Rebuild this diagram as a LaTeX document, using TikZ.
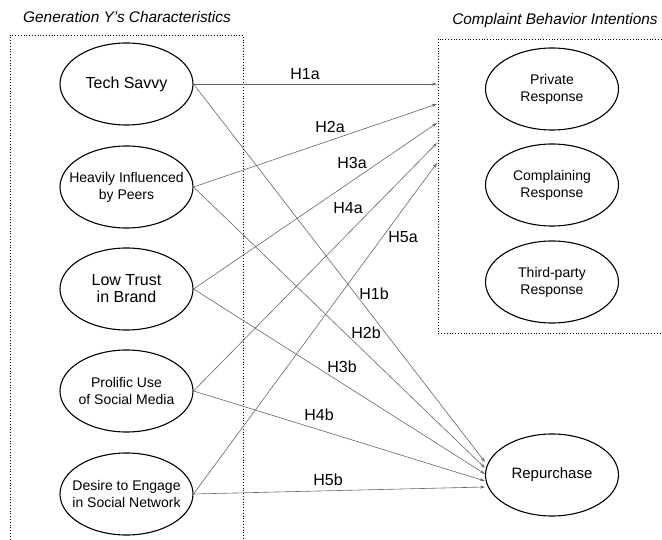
\documentclass[tikz,border=0pt]{standalone}
\usepackage{fontspec}
\setmainfont{Liberation Sans}
\usetikzlibrary{shapes.geometric,arrows.meta}
\begin{document}
\begin{tikzpicture}[x=1pt,y=-1pt,
  oval/.style={ellipse,draw=black,line width=1.1pt,minimum width=133pt,minimum height=82pt,inner sep=0pt},
  txt/.style={align=center,inner sep=0pt,font=\fontsize{14}{17}\selectfont},
  bigtxt/.style={txt,font=\fontsize{16}{17}\selectfont},
  link/.style={draw=black!60,line width=0.6pt,-{Stealth[length=5pt,width=3pt]}},
  hlab/.style={font=\fontsize{16}{18}\selectfont,inner sep=0pt},
  grp/.style={draw=black,dotted,line width=0.8pt},
  ttl/.style={font=\fontsize{15.4}{18}\selectfont\itshape,inner sep=0pt}]
\useasboundingbox (0,0) rectangle (662,540);
% group boxes
\draw[grp] (10,545) -- (10,35) -- (243,35) -- (243,545);
\draw[grp] (670,39) -- (438,39) -- (438,333) -- (670,333);
\node[ttl] (t1) at (127,17) {Generation Y’s Characteristics};
\node[ttl] (t2) at (555,21) {Complaint Behavior Intentions};
% left nodes
\node[oval,label={[bigtxt]center:Tech Savvy}] (ts) at (126.5,84) {};
\node[oval,label={[txt]center:Heavily Influenced\\by Peers}] (hi) at (126.5,187) {};
\node[oval,label={[bigtxt]center:Low Trust\\in Brand}] (lt) at (126.5,289) {};
\node[oval,label={[txt]center:Prolific Use\\of Social Media}] (pu) at (126.5,391) {};
\node[oval,label={[txt]center:Desire to Engage\\in Social Network}] (de) at (126.5,494) {};
% right nodes
\node[oval,label={[txt]center:Private\\Response}] (pr) at (552,89) {};
\node[oval,label={[txt]center:Complaining\\Response}] (cr) at (552,185) {};
\node[oval,label={[txt]center:Third-party\\Response}] (tp) at (552,282) {};
\node[oval,label={[txt,font=\fontsize{15}{17}\selectfont]center:Repurchase}] (rp) at (552,475) {};
% arrow targets on the group box
\coordinate (a1) at (437,84);
\coordinate (a2) at (437,104);
\coordinate (a3) at (437,123);
\coordinate (a4) at (437,143);
\coordinate (a5) at (437,163);
\coordinate (b1) at (485,462);
\coordinate (b2) at (485,468);
\coordinate (b3) at (485,474);
\coordinate (b4) at (485,481);
\coordinate (b5) at (485,487);
% connectors
\draw[link] (ts.east) -- (a1);
\draw[link] (hi.east) -- (a2);
\draw[link] (lt.east) -- (a3);
\draw[link] (pu.east) -- (a4);
\draw[link] (de.east) -- (a5);
\draw[link] (ts.east) -- (b1);
\draw[link] (hi.east) -- (b2);
\draw[link] (lt.east) -- (b3);
\draw[link] (pu.east) -- (b4);
\draw[link] (de.east) -- (b5);
% labels
\node[hlab] (l1a) at (305,74) {H1a};
\node[hlab] (l2a) at (330,127) {H2a};
\node[hlab] (l3a) at (352,163) {H3a};
\node[hlab] (l4a) at (348,208) {H4a};
\node[hlab] (l5a) at (403,237) {H5a};
\node[hlab] (l1b) at (374,294) {H1b};
\node[hlab] (l2b) at (366,333) {H2b};
\node[hlab] (l3b) at (342,367) {H3b};
\node[hlab] (l4b) at (319,415) {H4b};
\node[hlab] (l5b) at (328,480) {H5b};
\end{tikzpicture}
\end{document}
